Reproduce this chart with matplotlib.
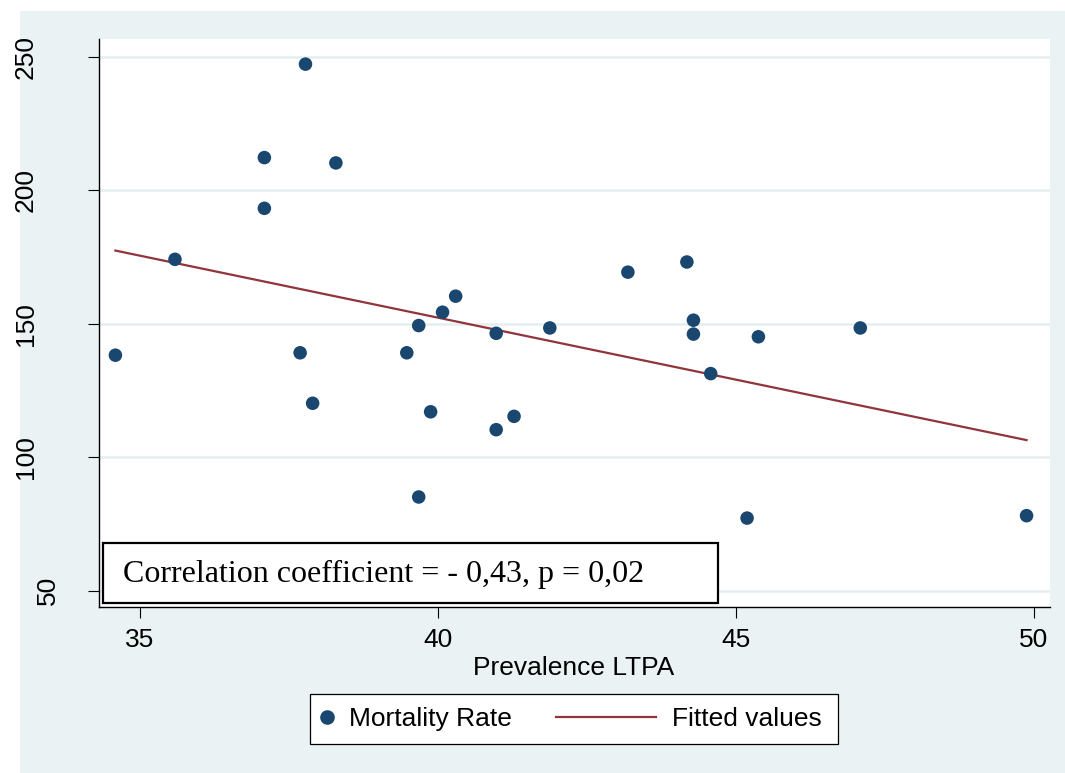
import numpy as np
import matplotlib
matplotlib.use("Agg")
import matplotlib.pyplot as plt
from matplotlib.patches import Rectangle
from matplotlib.lines import Line2D
import matplotlib.transforms as mtransforms

# values
prevalence_ltpa = [34.59, 35.59, 37.09, 37.09, 37.78, 38.29, 37.69, 37.90, 39.48, 39.68,
                   39.88, 39.68, 40.08, 40.30, 40.98, 40.98, 41.28, 41.88, 43.19, 44.18,
                   44.29, 44.29, 44.58, 45.38, 45.19, 47.09, 49.88]
mortality_rate = [138.2, 174.1, 212.2, 193.2, 247.2, 210.2, 139.1, 120.2, 139.1, 149.3,
                  117.0, 85.1, 154.3, 160.3, 146.4, 110.3, 115.3, 148.4, 169.3, 173.1,
                  151.3, 146.1, 131.3, 145.1, 77.2, 148.4, 78.1]
x_ticks = [35, 40, 45, 50]
y_ticks = [50, 100, 150, 200, 250]
note = "Correlation coefficient = - 0,43, p = 0,02"

plt.rcParams['font.family'] = ['Liberation Sans', 'DejaVu Sans']

navy = '#1A476F'
maroon = '#90353B'
bg = '#EAF2F3'

W, H = 1065, 773
fig = plt.figure(figsize=(W/100, H/100), dpi=100)
fig.patch.set_facecolor('white')
fig.add_artist(Rectangle((20/W, 0), 1 - 20/W, 1 - 11/H, transform=fig.transFigure,
                         facecolor=bg, edgecolor='none', zorder=-5))

ax = fig.add_axes([98.7/W, 1 - 607/H, (1049.5 - 98.7)/W, (607 - 39.3)/H])
ax.set_facecolor('white')

x = np.array(prevalence_ltpa)
y = np.array(mortality_rate)
sc = ax.scatter(x, y, s=95, color=navy, edgecolors='none', zorder=3)

# linear fit
b1, b0 = np.polyfit(x, y, 1)
xf = np.array([x.min(), x.max()])
ln, = ax.plot(xf, b0 + b1*xf, color=maroon, lw=1.6, zorder=2)

ax.set_xlim(34.31, 50.265)
ax.set_ylim(43.9, 256.5)
ax.set_xticks(x_ticks)
ax.set_yticks(y_ticks)
ax.yaxis.grid(True, color='#E4EEF0', lw=1.8)
ax.set_axisbelow(True)

for s in ['top', 'right']:
    ax.spines[s].set_visible(False)
for s in ['left', 'bottom']:
    ax.spines[s].set_linewidth(1.0)
    ax.spines[s].set_color('black')

ax.tick_params(axis='both', direction='out', length=8, width=0.8, labelsize=19)
ax.tick_params(axis='x', pad=7)
ax.tick_params(axis='y', pad=36)
plt.setp(ax.get_yticklabels(), rotation=90, va='center')
for lab in ax.get_yticklabels():
    if lab.get_text() == '50':
        lab.set_transform(lab.get_transform() +
                          mtransforms.ScaledTranslation(0.22, 0, fig.dpi_scale_trans))

ax.set_xlabel('Prevalence LTPA', fontsize=19, labelpad=3)

# annotation box
ax.add_patch(Rectangle((0.0045, 0.007), 0.6465, 0.106, transform=ax.transAxes,
                       facecolor='white', edgecolor='black', lw=1.6, zorder=4))
ax.text(0.0256, 0.058, note, transform=ax.transAxes, fontsize=23,
        family=['Liberation Serif', 'DejaVu Serif'], va='center', ha='left', zorder=5)

# legend
fig.add_artist(Rectangle((310/W, 1 - 744/H), (838 - 310)/W, 50/H, transform=fig.transFigure,
                         facecolor='white', edgecolor='black', lw=0.9, zorder=1))
h1 = Line2D([], [], marker='o', ls='none', color=navy, markersize=9.5)
leg1 = fig.legend([h1], ['Mortality Rate'], loc='center left',
                  bbox_to_anchor=((327 - 10.5)/W, 1 - 719/H), frameon=False,
                  fontsize=19, handlelength=0.8, handletextpad=0.45,
                  borderpad=0, borderaxespad=0)
leg2 = fig.legend([ln], ['Fitted values'], loc='center left',
                  bbox_to_anchor=(556/W, 1 - 719/H), frameon=False,
                  fontsize=19, handlelength=3.8, handletextpad=0.6,
                  borderpad=0, borderaxespad=0)
leg1.set_zorder(2)
leg2.set_zorder(2)

fig.savefig('out.png', dpi=100)
